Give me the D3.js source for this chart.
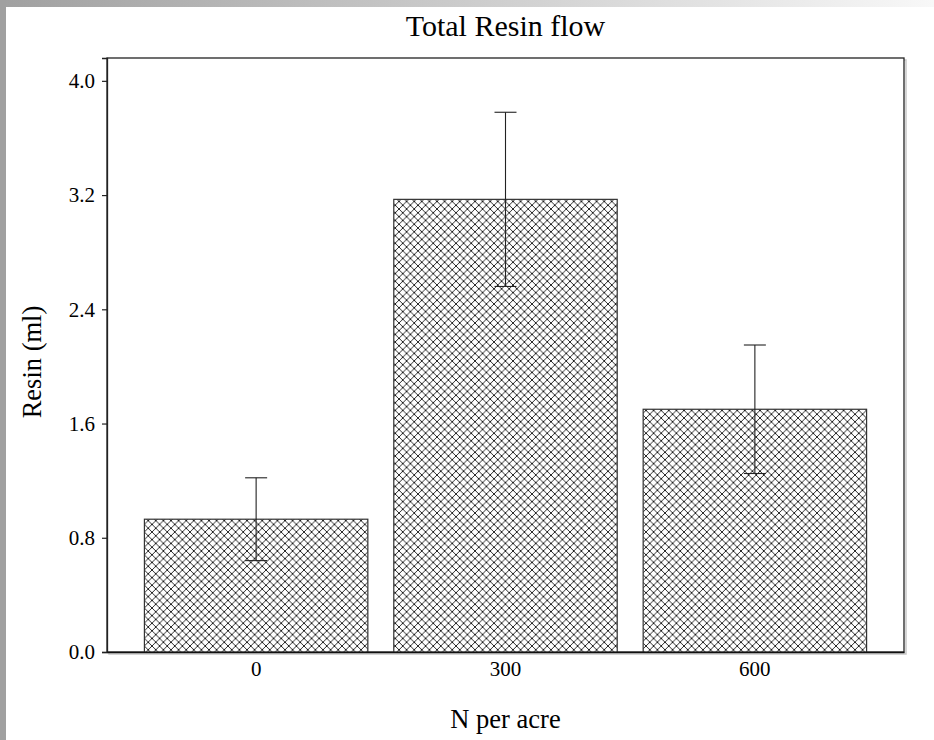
<!DOCTYPE html>
<html>
<head>
<meta charset="utf-8">
<title>Total Resin flow</title>
<script src="https://cdn.jsdelivr.net/npm/d3@7"></script>
<style>
    html, body { margin: 0; padding: 0; background: #fff; }
    svg { display: block; }
    svg text { font-family: "Liberation Serif", "Times New Roman", serif !important; fill: #000; }
</style>
</head>
<body>
<svg id="chart" width="934" height="740"></svg>
<script>
//
// ***********************************************************************************
//                      DATA
//
// ***********************************************************************************
//

const categories = ["0", "300", "600"];
const resinMeans = [0.93, 3.17, 1.70];
const resinErrors = [0.29, 0.61, 0.45];
const yTickValues = [0.0, 0.8, 1.6, 2.4, 3.2, 4.0];
const yMax = 4.16;

const titleText = "Total Resin flow";
const xLabelText = "N per acre";
const yLabelText = "Resin (ml)";

//
// ***********************************************************************************
//                      CHART
//
// ***********************************************************************************
//

const width = 934;
const height = 740;
const margin = { top: 58, right: 30, bottom: 88, left: 107 };

const svg = d3.select("#chart");

// The grey window frame round the picture.
let defs = svg.append("defs");
let frameGrad = defs.append("linearGradient")
    .attr("id", "topFrame")
    .attr("x1", 0).attr("x2", 1).attr("y1", 0).attr("y2", 0);
frameGrad.append("stop").attr("offset", 0).attr("stop-color", "#a0a0a0");
frameGrad.append("stop").attr("offset", 1).attr("stop-color", "#f8f8f8");

svg.append("rect").attr("width", width).attr("height", 7).attr("fill", "url(#topFrame)");
svg.append("rect").attr("width", 6).attr("height", height).attr("fill", "#a0a0a0");

// Cross hatch pattern for the bars.
const hs = 7.6;
let hatch = defs.append("pattern")
    .attr("id", "crossHatch")
    .attr("patternUnits", "userSpaceOnUse")
    .attr("width", hs)
    .attr("height", hs);
hatch.append("rect").attr("width", hs).attr("height", hs).attr("fill", "#fff");
hatch.append("path")
    .attr("d", `M0,0L${hs},${hs}M${hs},0L0,${hs}`)
    .attr("stroke", "#111")
    .attr("stroke-width", 0.9);

// Scales
const x = d3.scaleBand()
    .domain(categories)
    .range([margin.left, width - margin.right])
    .paddingInner(0.104)
    .paddingOuter(0.15);

const y = d3.scaleLinear()
    .domain([0, yMax])
    .range([height - margin.bottom, margin.top]);

const plotRight = width - margin.right;
const plotBottom = height - margin.bottom;

// Drop shadow of the plot box, then the box itself.
svg.append("rect")
    .attr("x", margin.left + 2)
    .attr("y", margin.top + 2)
    .attr("width", plotRight - margin.left)
    .attr("height", plotBottom - margin.top)
    .attr("fill", "none")
    .attr("stroke", "#c8c8c8")
    .attr("stroke-width", 1.5);
svg.append("rect")
    .attr("x", margin.left)
    .attr("y", margin.top)
    .attr("width", plotRight - margin.left)
    .attr("height", plotBottom - margin.top)
    .attr("fill", "#fff")
    .attr("stroke", "#222")
    .attr("stroke-width", 1.3);

// Bars
svg.append("g")
    .selectAll("rect")
    .data(categories)
    .join("rect")
        .attr("x", d => x(d))
        .attr("y", (d, i) => y(resinMeans[i]))
        .attr("width", x.bandwidth())
        .attr("height", (d, i) => y(0) - y(resinMeans[i]))
        .attr("fill", "url(#crossHatch)")
        .attr("stroke", "#333")
        .attr("stroke-width", 1.2);

// Error bars
let errs = svg.append("g")
    .attr("stroke", "#222")
    .attr("stroke-width", 1.1)
    .selectAll("g")
    .data(categories)
    .join("g")
        .attr("transform", d => `translate(${x(d) + x.bandwidth() / 2},0)`);
errs.append("line")
    .attr("y1", (d, i) => y(resinMeans[i] + resinErrors[i]))
    .attr("y2", (d, i) => y(resinMeans[i] - resinErrors[i]));
errs.append("line")
    .attr("x1", -11).attr("x2", 11)
    .attr("y1", (d, i) => y(resinMeans[i] + resinErrors[i]))
    .attr("y2", (d, i) => y(resinMeans[i] + resinErrors[i]));
errs.append("line")
    .attr("x1", -11).attr("x2", 11)
    .attr("y1", (d, i) => y(resinMeans[i] - resinErrors[i]))
    .attr("y2", (d, i) => y(resinMeans[i] - resinErrors[i]));

// Y axis
svg.append("g")
    .attr("transform", `translate(${margin.left},0)`)
    .call(d3.axisLeft(y)
        .tickValues(yTickValues)
        .tickFormat(d3.format(".1f"))
        .tickSize(5)
        .tickPadding(7))
    .call(g => g.attr("font-size", null).attr("font-family", null))
    .call(g => g.select(".domain").attr("stroke", "#222").attr("stroke-width", 1.3))
    .call(g => g.selectAll(".tick line").attr("stroke", "#222").attr("stroke-width", 1.2))
    .call(g => g.selectAll(".tick text").style("font-size", "21px"));

// X axis (no tick marks, just the labels)
svg.append("g")
    .attr("transform", `translate(0,${plotBottom})`)
    .call(d3.axisBottom(x).tickSize(0).tickPadding(9))
    .call(g => g.attr("font-size", null).attr("font-family", null))
    .call(g => g.select(".domain").attr("stroke", "#111").attr("stroke-width", 1.6))
    .call(g => g.selectAll(".tick text").style("font-size", "21px"));

// Titles
svg.append("text")
    .attr("x", (margin.left + plotRight) / 2)
    .attr("y", 36)
    .attr("text-anchor", "middle")
    .style("font-size", "30px")
    .text(titleText);

svg.append("text")
    .attr("x", (margin.left + plotRight) / 2)
    .attr("y", 728)
    .attr("text-anchor", "middle")
    .style("font-size", "26.5px")
    .text(xLabelText);

svg.append("text")
    .attr("transform", `translate(41,362) rotate(-90)`)
    .attr("text-anchor", "middle")
    .style("font-size", "26.5px")
    .text(yLabelText);
</script>
</body>
</html>
